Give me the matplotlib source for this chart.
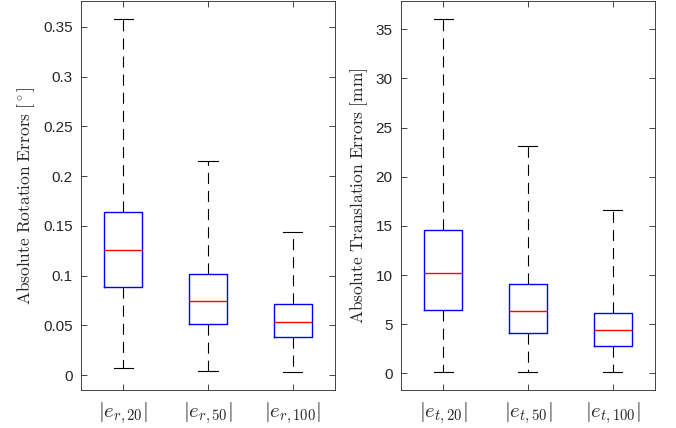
import matplotlib.pyplot as plt
import numpy as np

plt.rcParams['mathtext.fontset'] = 'cm'
plt.rcParams['font.family'] = ['Liberation Sans', 'DejaVu Sans']

# Data
rot_labels = [r'$|e_{r,20}|$', r'$|e_{r,50}|$', r'$|e_{r,100}|$']
rot_low = [0.0074, 0.0040, 0.0027]
rot_q1 = [0.0888, 0.0516, 0.0379]
rot_med = [0.1253, 0.0744, 0.0533]
rot_q3 = [0.1635, 0.1015, 0.0717]
rot_high = [0.3580, 0.2154, 0.1437]

tra_labels = [r'$|e_{t,20}|$', r'$|e_{t,50}|$', r'$|e_{t,100}|$']
tra_low = [0.13, 0.10, 0.17]
tra_q1 = [6.41, 4.13, 2.78]
tra_med = [10.17, 6.31, 4.41]
tra_q3 = [14.55, 9.05, 6.17]
tra_high = [36.05, 23.16, 16.58]


def make_stats(low, q1, med, q3, high, labels):
    out = []
    for i in range(len(med)):
        out.append(dict(whislo=low[i], q1=q1[i], med=med[i], q3=q3[i],
                        whishi=high[i], label=labels[i], fliers=[]))
    return out


def draw(ax, stats, ylabel, ylim, yticks, yticklabels):
    ax.bxp(stats, positions=[1, 2, 3], widths=0.45, showfliers=False,
           boxprops=dict(color='#0000ff', linewidth=1.0),
           medianprops=dict(color='#ff0000', linewidth=1.0),
           whiskerprops=dict(color='black', linewidth=0.8, linestyle=(0, (10, 6.3))),
           capprops=dict(color='black', linewidth=0.8),
           capwidths=0.225)
    ax.set_xlim(0.5, 3.5)
    ax.set_ylim(*ylim)
    ax.set_yticks(yticks)
    ax.set_yticklabels(yticklabels)
    ax.tick_params(axis='both', direction='in', top=True, right=True,
                   length=4, width=0.6, color='#262626')
    ax.tick_params(axis='y', labelsize=11, labelcolor='#262626', pad=6)
    ax.tick_params(axis='x', labelsize=15, labelcolor='#262626', pad=7)
    for s in ax.spines.values():
        s.set_color('#262626')
        s.set_linewidth(0.6)
    ax.set_ylabel(ylabel, fontsize=12.5, color='#262626', labelpad=4)


fig = plt.figure(figsize=(6.76, 4.28), dpi=100)
ax1 = fig.add_axes([0.1198, 0.0888, 0.3758, 0.9089])
ax2 = fig.add_axes([0.5928, 0.0888, 0.3762, 0.9089])

draw(ax1, make_stats(rot_low, rot_q1, rot_med, rot_q3, rot_high, rot_labels),
     r'$\mathrm{Absolute\ Rotation\ Errors\ [^\circ]}$', (-0.015, 0.376),
     np.arange(0, 0.36, 0.05), ['0', '0.05', '0.1', '0.15', '0.2', '0.25', '0.3', '0.35'])
draw(ax2, make_stats(tra_low, tra_q1, tra_med, tra_q3, tra_high, tra_labels),
     r'$\mathrm{Absolute\ Translation\ Errors\ [mm]}$', (-1.69, 37.88),
     np.arange(0, 36, 5), ['0', '5', '10', '15', '20', '25', '30', '35'])

fig.savefig('out.png', dpi=100)
